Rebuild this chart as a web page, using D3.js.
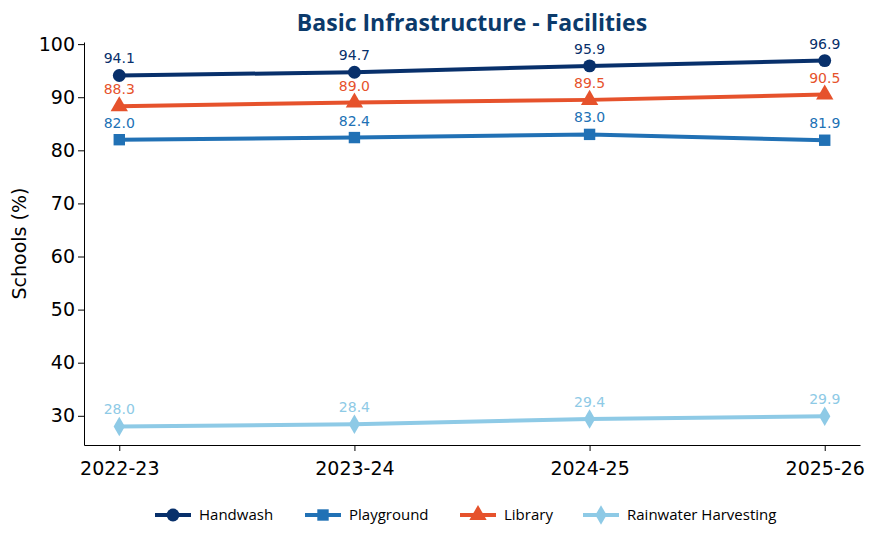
<!DOCTYPE html>
<meta charset="utf-8">
<script src="https://d3js.org/d3.v7.min.js"></script>
<style>body{margin:0;font-family:"DejaVu Sans",sans-serif;}</style>
<div id="chart"></div>
<script>
  const W = 875, H = 542;
  const margin = { top: 42, right: 15, bottom: 97, left: 84 },
    width = W - margin.left - margin.right,
    height = H - margin.top - margin.bottom;

  const years = ["2022-23", "2023-24", "2024-25", "2025-26"];
  const series = [
    { name: "Handwash", color: "#08306b", shape: d3.symbolCircle, size: 130, values: [94.1, 94.7, 95.9, 96.9] },
    { name: "Playground", color: "#2171b5", shape: d3.symbolSquare, size: 130, values: [82.0, 82.4, 83.0, 81.9] },
    { name: "Library", color: "#e6522c", shape: d3.symbolTriangle, size: 130, values: [88.3, 89.0, 89.5, 90.5] },
    { name: "Rainwater Harvesting", color: "#8ecae6", shape: d3.symbolDiamond, size: 110, values: [28.0, 28.4, 29.4, 29.9] }
  ];

  const svg = d3.select("#chart").append("svg").attr("width", W).attr("height", H);
  const g = svg.append("g").attr("transform", `translate(${margin.left},${margin.top})`);

  const x = d3.scaleLinear().domain([-0.15, 3.15]).range([0, width]);
  const y = d3.scaleLinear().domain([24.5, 100.4]).range([height, 0]);

  const xAxis = g.append("g").attr("transform", `translate(0,${height})`)
    .call(d3.axisBottom(x).tickValues([0, 1, 2, 3]).tickFormat(i => years[i]).tickSizeOuter(0));
  const yAxis = g.append("g").call(d3.axisLeft(y).tickValues(d3.range(30, 101, 10)).tickSizeOuter(0));
  [xAxis, yAxis].forEach(a => {
    a.selectAll("text").style("font-size", "19px").style("font-family", "DejaVu Sans").attr("fill", "#000");
    a.selectAll("line").attr("stroke", "#000");
    a.select(".domain").attr("stroke", "#000");
  });
  xAxis.selectAll("text").attr("dy", "1.1em");

  g.append("text").attr("transform", "rotate(-90)")
    .attr("x", -height / 2).attr("y", -58).attr("text-anchor", "middle")
    .style("font-size", "19px").text("Schools (%)");

  svg.append("text").attr("x", margin.left + width / 2).attr("y", 31)
    .attr("text-anchor", "middle").style("font-size", "23px").style("font-weight", "bold")
    .style("font-family", "Open Sans").attr("fill", "#0b3a6b")
    .text("Basic Infrastructure - Facilities");

  const line = d3.line().x((d, i) => x(i)).y(d => y(d));
  series.forEach(s => {
    g.append("path").datum(s.values).attr("fill", "none").attr("stroke", s.color)
      .attr("stroke-width", 4).attr("d", line);
    g.selectAll(null).data(s.values).join("path")
      .attr("transform", (d, i) => `translate(${x(i)},${y(d)})`)
      .attr("d", d3.symbol().type(s.shape).size(s.size)).attr("fill", s.color);
    g.selectAll(null).data(s.values).join("text")
      .attr("x", (d, i) => x(i)).attr("y", d => y(d) - 12)
      .attr("text-anchor", "middle").style("font-size", "14px").attr("fill", s.color)
      .text(d => d.toFixed(1));
  });

  // legend
  const legend = svg.append("g").attr("transform", `translate(155,515)`);
  const offsets = [0, 150, 305, 428];
  series.forEach((s, i) => {
    const lg = legend.append("g").attr("transform", `translate(${offsets[i]},0)`);
    lg.append("line").attr("x1", 0).attr("x2", 36).attr("stroke", s.color).attr("stroke-width", 4);
    lg.append("path").attr("transform", "translate(18,0)")
      .attr("d", d3.symbol().type(s.shape).size(s.size)).attr("fill", s.color);
    lg.append("text").attr("x", 44).attr("y", 5).style("font-size", "15px")
      .style("font-family", "Open Sans").text(s.name);
  });
</script>
